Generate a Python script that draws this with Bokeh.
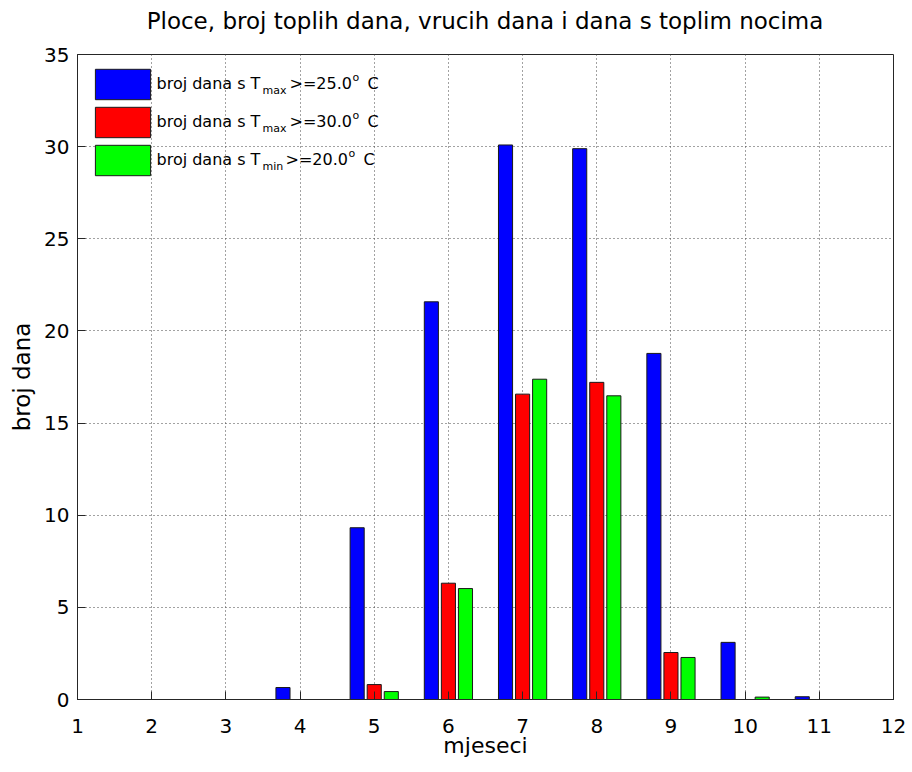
from bokeh.plotting import figure
from bokeh.models import (ColumnDataSource, Range1d, FixedTicker,
                          Legend, LegendItem, Label, Div)
from bokeh.layouts import column
from bokeh.transform import dodge
from bokeh.embed import file_html
from bokeh.resources import INLINE

# ---- data ----
months = [1, 2, 3, 4, 5, 6, 7, 8, 9, 10, 11, 12]
n_tmax25 = [0, 0, 0, 0.65, 9.32, 21.58, 30.09, 29.89, 18.78, 3.1, 0.15, 0]
n_tmax30 = [0, 0, 0, 0, 0.81, 6.31, 16.57, 17.21, 2.55, 0, 0, 0]
n_tmin20 = [0, 0, 0, 0, 0.43, 6.02, 17.38, 16.48, 2.28, 0.13, 0, 0]
x_ticks = [1, 2, 3, 4, 5, 6, 7, 8, 9, 10, 11, 12]
y_ticks = [0, 5, 10, 15, 20, 25, 30, 35]
title_text = "Ploce, broj toplih dana, vrucih dana i dana s toplim nocima"
x_label = "mjeseci"
y_label = "broj dana"
legend_main = ["broj dana s T", "broj dana s T", "broj dana s T"]
legend_sub = ["max", "max", "min"]
legend_rest = [">=25.0", ">=30.0", ">=20.0"]
legend_sup = ["o", "o", "o"]
legend_unit = ["C", "C", "C"]
colors = ["#0000FF", "#FF0000", "#00FF00"]

FONT = "DejaVu Sans"

src = ColumnDataSource(dict(month=months, a=n_tmax25, b=n_tmax30, c=n_tmin20))

# title as a header block above the plot frame
title_div = Div(text=title_text, width=816, height=42, margin=(0, 0, 0, 77),
                styles={"font-family": FONT, "font-size": "23px",
                        "text-align": "center", "line-height": "43px",
                        "color": "black", "white-space": "nowrap"})

p = figure(frame_width=816, frame_height=645,
           x_range=Range1d(1, 12), y_range=Range1d(0, 35),
           output_backend="svg", toolbar_location=None,
           min_border_left=77, min_border_right=15,
           min_border_top=12, min_border_bottom=70)

p.background_fill_color = "white"
p.border_fill_color = "white"
p.outline_line_color = "#262626"
p.outline_line_width = 1

bar_w = 0.19
off = 0.23
r1 = p.vbar(x=dodge("month", -off, range=p.x_range), top="a", width=bar_w, bottom=0,
            source=src, fill_color=colors[0], line_color="#1a1a1a", line_width=1)
r2 = p.vbar(x=dodge("month", 0.0, range=p.x_range), top="b", width=bar_w, bottom=0,
            source=src, fill_color=colors[1], line_color="#1a1a1a", line_width=1)
r3 = p.vbar(x=dodge("month", off, range=p.x_range), top="c", width=bar_w, bottom=0,
            source=src, fill_color=colors[2], line_color="#1a1a1a", line_width=1)

# axes
def style_axis(ax):
    ax.axis_line_color = "#262626"
    ax.major_tick_line_color = "#262626"
    ax.major_tick_in = 8
    ax.major_tick_out = 0
    ax.minor_tick_line_color = None
    ax.major_label_text_font = FONT
    ax.major_label_text_font_size = "20px"
    ax.major_label_text_color = "black"
    ax.axis_label_text_font = FONT
    ax.axis_label_text_font_style = "normal"
    ax.axis_label_text_color = "black"

xa = p.xaxis[0]
xa.ticker = FixedTicker(ticks=x_ticks)
style_axis(xa)
xa.axis_label = x_label
xa.axis_label_text_font_size = "22px"
xa.major_label_standoff = 19
xa.axis_label_standoff = -3

ya = p.yaxis[0]
ya.ticker = FixedTicker(ticks=y_ticks)
style_axis(ya)
ya.axis_label = y_label
ya.axis_label_text_font_size = "23px"
ya.major_label_standoff = 8
ya.axis_label_standoff = 6

# grid
p.xgrid.ticker = FixedTicker(ticks=x_ticks)
p.ygrid.ticker = FixedTicker(ticks=y_ticks)
for g in (p.xgrid[0], p.ygrid[0]):
    g.grid_line_color = "#444444"
    g.grid_line_dash = "1 3"
    g.grid_line_width = 1

# legend patches
legend = Legend(items=[LegendItem(label=" ", renderers=[r]) for r in (r1, r2, r3)],
                location="top_left", glyph_width=69, glyph_height=38, spacing=0,
                padding=0, margin=11, border_line_color=None,
                background_fill_alpha=0, label_text_font_size="1px",
                label_standoff=0, label_width=0, label_height=38)
p.add_layout(legend)

# legend texts (anchored in data space, pieces offset in pixels)
leg_x = 2.065
leg_y = [33.42, 31.36, 29.30]
sub_off = 106
rest_off = [133, 133, 129]
sup_off = [196, 196, 192]
unit_off = [211, 211, 207]
for i in range(3):
    common = dict(x=leg_x, y=leg_y[i], text_font=FONT, text_color="black",
                  text_baseline="alphabetic", text_align="left")
    p.add_layout(Label(text=legend_main[i], x_offset=0, y_offset=0,
                       text_font_size="16px", **common))
    p.add_layout(Label(text=legend_sub[i], x_offset=sub_off, y_offset=-7,
                       text_font_size="11px", **common))
    p.add_layout(Label(text=legend_rest[i], x_offset=rest_off[i], y_offset=0,
                       text_font_size="16px", **common))
    p.add_layout(Label(text=legend_sup[i], x_offset=sup_off[i], y_offset=6,
                       text_font_size="11px", **common))
    p.add_layout(Label(text=legend_unit[i], x_offset=unit_off[i], y_offset=0,
                       text_font_size="16px", **common))

layout = column(title_div, p, spacing=0)
open("out.html", "w").write(file_html(layout, INLINE))
